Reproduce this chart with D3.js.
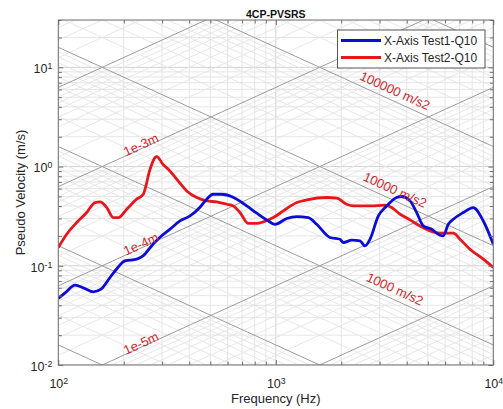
<!DOCTYPE html>
<html><head><meta charset="utf-8">
<script src="https://cdn.jsdelivr.net/npm/d3@7"></script>
<style>body{margin:0;background:#fff;} svg{display:block;font-family:"Liberation Sans",Arial,Helvetica,sans-serif;}</style>
</head><body><svg id="c" width="503" height="409"></svg>
<script>
// ---------------- data ----------------
const chartTitle = "4CP-PVSRS";
const xLabel = "Frequency (Hz)";
const yLabel = "Pseudo Velocity (m/s)";
const seriesNames = ["X-Axis Test1-Q10", "X-Axis Test2-Q10"];

const test1Freq = [100,108.5,119.3,131.3,144.9,157.2,172.9,188.2,202.6,229.3,245.1,272.5,293.6,326.3,362.7,403.3,448.3,481.3,514.4,564,635.8,734.8,817.2,908.1,991.5,1122,1248,1411,1542,1775,1973,2043,2234,2438,2571,2711,2961,3236,3596,3793,4140,4444,4766,5210,5689,5890,6209,6546,7281,8091,8995,10000];
const test1Vel = [0.047,0.0542,0.0638,0.0595,0.0546,0.0581,0.0762,0.0968,0.112,0.1165,0.1258,0.165,0.194,0.234,0.283,0.318,0.389,0.469,0.526,0.526,0.491,0.401,0.339,0.290,0.262,0.2995,0.3136,0.3064,0.262,0.193,0.1853,0.1717,0.181,0.178,0.1586,0.185,0.318,0.401,0.4875,0.499,0.451,0.344,0.252,0.234,0.203,0.2,0.262,0.2946,0.344,0.386,0.283,0.165];

const test2Freq = [100,109.3,121.5,135.1,147.5,155.5,167.0,179.0,188.8,206.3,229.3,245.9,264.1,278.4,283.5,304.0,320.4,350.3,389.3,432.9,481.3,535.0,594.8,637.8,684.5,747.4,817.2,876.0,974.0,1083,1248,1387,1714,1905,2118,2272,2711,3177,3412,3724,4140,4603,5117,5689,6546,7031,7812,8995,10000];
const test2Vel = [0.153,0.208,0.273,0.344,0.434,0.440,0.386,0.306,0.306,0.3715,0.469,0.526,0.939,1.232,1.261,1.042,0.939,0.745,0.568,0.4875,0.451,0.440,0.417,0.401,0.344,0.267,0.267,0.277,0.306,0.357,0.434,0.461,0.4875,0.480,0.417,0.401,0.401,0.408,0.386,0.331,0.290,0.252,0.2246,0.213,0.213,0.1853,0.147,0.1165,0.0961];

const xMajorTicks = [100, 1000, 10000];
const xTickExps = ["2", "3", "4"];
const yMajorTicks = [0.01, 0.1, 1, 10];
const yTickExps = ["-2", "-1", "0", "1"];

const dispDecades = [1e-8,1e-7,1e-6,1e-5,1e-4,1e-3,1e-2,1e-1];   // m
const accDecades = [1e1,1e2,1e3,1e4,1e5,1e6,1e7];                // m/s2
const dispLabelValues = [1e-3, 1e-4, 1e-5];
const dispLabelTexts = ["1e-3m", "1e-4m", "1e-5m"];
const accLabelValues = [1e5, 1e4, 1e3];
const accLabelTexts = ["100000 m/s2", "10000 m/s2", "1000 m/s2"];

// ---------------- layout ----------------
const L = 58.3, R = 493.3, T = 20, B = 365;
const svg = d3.select("#c");
const x = d3.scaleLog().domain([100, 10000]).range([L, R]);
const y = d3.scaleLog().domain([0.01, 30]).range([B, T]);
const blue = "#0c0cd8", red = "#e8161b", annot = "#d0282e";

const xTicks = [];
[100, 1000].forEach(d => { for (let m = 1; m <= 9; m++) xTicks.push(m * d); });
xTicks.push(10000);
const yTicks = [];
[0.01, 0.1, 1, 10].forEach(d => { for (let m = 1; m <= 9; m++) { const v = +(m * d).toPrecision(3); if (v <= 30) yTicks.push(v); } });
const isMajX = d => xMajorTicks.includes(d);
const isMajY = d => yMajorTicks.includes(d);

svg.append("defs").append("clipPath").attr("id", "clip")
  .append("rect").attr("x", L).attr("y", T).attr("width", R - L).attr("height", B - T);

const plot = svg.append("g").attr("clip-path", "url(#clip)");

// rectangular log grid
plot.selectAll(".vg").data(xTicks).join("line")
  .attr("x1", d => x(d)).attr("x2", d => x(d)).attr("y1", T).attr("y2", B)
  .attr("stroke", d => isMajX(d) ? "#d2d2d2" : "#e6e6e6").attr("stroke-width", 1);
plot.selectAll(".hg").data(yTicks).join("line")
  .attr("x1", L).attr("x2", R).attr("y1", d => y(d)).attr("y2", d => y(d))
  .attr("stroke", d => isMajY(d) ? "#d2d2d2" : "#e6e6e6").attr("stroke-width", 1);

// tripartite diagonals
const fA = 100, fB = 10000;
const dispLines = [], accLines = [];
dispDecades.forEach(d => { for (let m = 1; m <= 9; m++) dispLines.push({ v: m * d, major: m === 1 }); });
accDecades.forEach(a => { for (let m = 1; m <= 9; m++) accLines.push({ v: m * a, major: m === 1 }); });
const dispV = (D, f) => 2 * Math.PI * f * D;
const accV = (A, f) => A / (2 * Math.PI * f);

function drawDiag(data, fn, major) {
  plot.append("g").selectAll("line").data(data.filter(d => d.major === major)).join("line")
    .attr("x1", x(fA)).attr("x2", x(fB))
    .attr("y1", d => y(fn(d.v, fA))).attr("y2", d => y(fn(d.v, fB)))
    .attr("stroke", major ? "#9c9c9c" : "#e4e4e4")
    .attr("stroke-width", major ? 1 : 0.9);
}
drawDiag(dispLines, dispV, false);
drawDiag(accLines, accV, false);
drawDiag(dispLines, dispV, true);
drawDiag(accLines, accV, true);

// diagonal annotations
const ang = Math.atan2(y(1) - y(10), x(1000) - x(100)) * 180 / Math.PI;
function label(text, f, v, fn, rot, off) {
  const px = x(f), py = y(fn(v, f)) - off;
  svg.append("text").attr("transform", `translate(${px},${py}) rotate(${rot})`)
    .attr("text-anchor", "middle").attr("dominant-baseline", "central")
    .attr("font-size", 13).attr("fill", annot).text(text);
}
dispLabelValues.forEach((v, i) => label(dispLabelTexts[i], 240, v, dispV, -ang, 4));
accLabelValues.forEach((v, i) => label(accLabelTexts[i], 3530, v, accV, ang, 11));

// curves
const line = d3.line().x(d => x(d[0])).y(d => y(d[1])).curve(d3.curveMonotoneX);
const s1 = test1Freq.map((f, i) => [f, test1Vel[i]]);
const s2 = test2Freq.map((f, i) => [f, test2Vel[i]]);
plot.append("path").datum(s2).attr("d", line).attr("fill", "none").attr("stroke", red).attr("stroke-width", 2.8).attr("stroke-linejoin", "round");
plot.append("path").datum(s1).attr("d", line).attr("fill", "none").attr("stroke", blue).attr("stroke-width", 2.8).attr("stroke-linejoin", "round");

// axes
const axCol = "#6e6e6e", txtCol = "#262626";
function styleAxis(g) {
  g.select(".domain").remove();
  g.selectAll(".tick line").attr("stroke", axCol);
  g.selectAll(".tick text").attr("fill", txtCol).attr("font-size", 12.5);
}
const gB = svg.append("g").attr("transform", `translate(0,${B})`)
  .call(d3.axisBottom(x).tickValues(xTicks).tickSize(-4).tickPadding(14).tickFormat(d => isMajX(d) ? "10" : ""));
styleAxis(gB);
gB.selectAll(".tick line").attr("y2", d => isMajX(d) ? -5 : -3.5);
gB.selectAll(".tick text").each(function (d) {
  const i = xMajorTicks.indexOf(d);
  if (i >= 0) d3.select(this).append("tspan").attr("dy", "-0.45em").attr("font-size", "0.7em").text(xTickExps[i]);
});

const gT = svg.append("g").attr("transform", `translate(0,${T})`)
  .call(d3.axisTop(x).tickValues(xTicks).tickSize(-4).tickFormat(""));
styleAxis(gT);
gT.selectAll(".tick line").attr("y2", d => isMajX(d) ? 5 : 3.5);

const gL = svg.append("g").attr("transform", `translate(${L},0)`)
  .call(d3.axisLeft(y).tickValues(yTicks).tickSize(-4).tickPadding(6).tickFormat(d => isMajY(d) ? "10" : ""));
styleAxis(gL);
gL.selectAll(".tick line").attr("x2", d => isMajY(d) ? 5 : 3.5);
gL.selectAll(".tick text").attr("dy", "0.42em").each(function (d) {
  const i = yMajorTicks.indexOf(d);
  if (i >= 0) d3.select(this).append("tspan").attr("dy", "-0.45em").attr("font-size", "0.7em").text(yTickExps[i]);
});

const gR = svg.append("g").attr("transform", `translate(${R},0)`)
  .call(d3.axisRight(y).tickValues(yTicks).tickSize(-4).tickFormat(""));
styleAxis(gR);
gR.selectAll(".tick line").attr("x2", d => isMajY(d) ? -5 : -3.5);

svg.append("rect").attr("x", L).attr("y", T).attr("width", R - L).attr("height", B - T)
  .attr("fill", "none").attr("stroke", axCol).attr("stroke-width", 1);

// titles
svg.append("text").attr("x", (L + R) / 2).attr("y", 17.5).attr("text-anchor", "middle")
  .attr("font-size", 10.5).attr("font-weight", "bold").attr("fill", "#111").text(chartTitle);
svg.append("text").attr("x", (L + R) / 2).attr("y", 403).attr("text-anchor", "middle")
  .attr("font-size", 13).attr("fill", txtCol).text(xLabel);
svg.append("text").attr("transform", `translate(25,${(T + B) / 2}) rotate(-90)`).attr("text-anchor", "middle")
  .attr("font-size", 13).attr("fill", txtCol).text(yLabel);

// legend
const lg = svg.append("g");
lg.append("rect").attr("x", 337.5).attr("y", 30).attr("width", 147.5).attr("height", 38)
  .attr("fill", "#fff").attr("stroke", "#555").attr("stroke-width", 1);
[blue, red].forEach((c, i) => {
  const yy = 40.5 + i * 17;
  lg.append("line").attr("x1", 341).attr("x2", 381).attr("y1", yy).attr("y2", yy)
    .attr("stroke", c).attr("stroke-width", 2.8);
  lg.append("text").attr("x", 384).attr("y", yy + 4.3).attr("font-size", 12).attr("fill", txtCol).text(seriesNames[i]);
});
</script></body></html>
